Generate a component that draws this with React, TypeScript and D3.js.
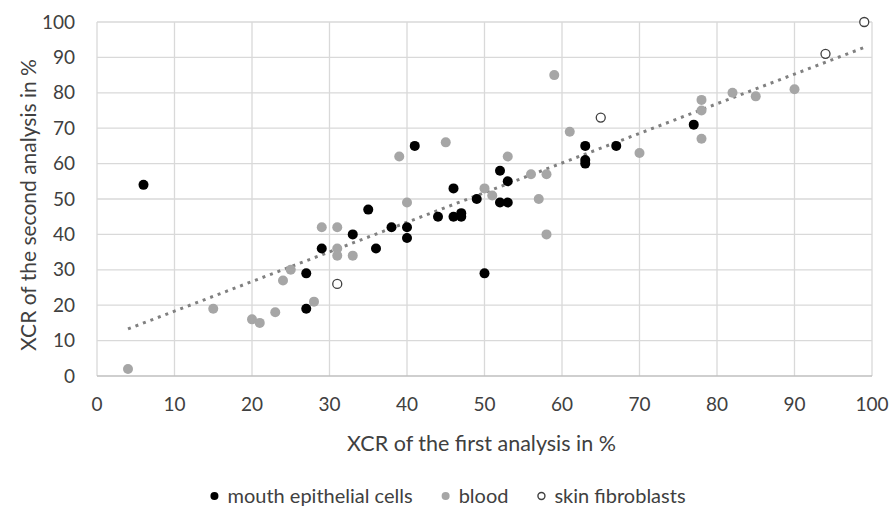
import * as d3 from "d3";
import { useEffect, useRef } from "react";

// x = XCR first analysis, y = XCR second analysis (%)
const mouthX = [6, 27, 27, 29, 33, 35, 36, 38, 40, 40, 41, 44, 46, 46, 47, 47, 49, 50, 52, 52, 53, 53, 63, 63, 63, 67, 77];
const mouthY = [54, 19, 29, 36, 40, 47, 36, 42, 42, 39, 65, 45, 53, 45, 46, 45, 50, 29, 58, 49, 49, 55, 65, 61, 60, 65, 71];

const bloodX = [4, 15, 20, 21, 23, 24, 25, 28, 29, 31, 31, 31, 33, 39, 40, 45, 50, 51, 53, 56, 57, 58, 58, 59, 61, 70, 78, 78, 78, 82, 85, 90];
const bloodY = [2, 19, 16, 15, 18, 27, 30, 21, 42, 42, 36, 34, 34, 62, 49, 66, 53, 51, 62, 57, 50, 57, 40, 85, 69, 63, 78, 75, 67, 80, 79, 81];

const skinX = [31, 65, 94, 99];
const skinY = [26, 73, 91, 100];

// linear trendline as drawn in the source
const trendSlope = 0.837;
const trendIntercept = 9.95;
const trendRange = [4, 99];

const xTicks = [0, 10, 20, 30, 40, 50, 60, 70, 80, 90, 100];
const yTicks = [0, 10, 20, 30, 40, 50, 60, 70, 80, 90, 100];

const legendItems = ["mouth epithelial cells", "blood", "skin fibroblasts"];
const legendFills = ["#000", "#a6a6a6", "#fff"];

const width = 889;
const height = 507;
const margin = { top: 22, right: 17, bottom: 131, left: 97 };
const font = "Lato, 'Open Sans', sans-serif";
const textColor = "#404040";

export default function App() {
  const svgRef = useRef<SVGSVGElement | null>(null);

  useEffect(() => {
    const svg = d3.select(svgRef.current);
    svg.selectAll("*").remove();

    const x = d3.scaleLinear().domain([0, 100]).range([margin.left, width - margin.right]);
    const y = d3.scaleLinear().domain([0, 100]).range([height - margin.bottom, margin.top]);

    // grid
    svg.append("g")
      .selectAll("line")
      .data(xTicks)
      .join("line")
      .attr("x1", (d) => x(d))
      .attr("x2", (d) => x(d))
      .attr("y1", y(0))
      .attr("y2", y(100))
      .attr("stroke", "#d9d9d9")
      .attr("stroke-width", 1.3);

    svg.append("g")
      .selectAll("line")
      .data(yTicks)
      .join("line")
      .attr("x1", x(0))
      .attr("x2", x(100))
      .attr("y1", (d) => y(d))
      .attr("y2", (d) => y(d))
      .attr("stroke", (d) => (d === 0 ? "#bfbfbf" : "#d9d9d9"))
      .attr("stroke-width", 1.3);

    // tick labels
    svg.append("g")
      .selectAll("text")
      .data(xTicks)
      .join("text")
      .attr("x", (d) => x(d))
      .attr("y", y(0) + 35)
      .attr("text-anchor", "middle")
      .attr("font-family", font)
      .attr("font-size", 19)
      .attr("fill", textColor)
      .text((d) => d);

    svg.append("g")
      .selectAll("text")
      .data(yTicks)
      .join("text")
      .attr("x", x(0) - 22)
      .attr("y", (d) => y(d))
      .attr("dy", "0.35em")
      .attr("text-anchor", "end")
      .attr("font-family", font)
      .attr("font-size", 19)
      .attr("fill", textColor)
      .text((d) => d);

    // axis titles
    svg.append("text")
      .attr("x", (x(0) + x(100)) / 2 - 3)
      .attr("y", y(0) + 75)
      .attr("text-anchor", "middle")
      .attr("font-family", font)
      .attr("font-size", 21.5)
      .attr("fill", textColor)
      .text("XCR of the first analysis in %");

    svg.append("text")
      .attr("transform", `translate(36, ${(y(0) + y(100)) / 2 + 6}) rotate(-90)`)
      .attr("text-anchor", "middle")
      .attr("font-family", font)
      .attr("font-size", 21)
      .attr("fill", textColor)
      .text("XCR of the second analysis in %");

    // trendline
    svg.append("line")
      .attr("x1", x(trendRange[0]))
      .attr("y1", y(trendSlope * trendRange[0] + trendIntercept))
      .attr("x2", x(trendRange[1]))
      .attr("y2", y(trendSlope * trendRange[1] + trendIntercept))
      .attr("stroke", "#808080")
      .attr("stroke-width", 3)
      .attr("stroke-dasharray", "3 5");

    const r = 5;
    svg.append("g")
      .selectAll("circle")
      .data(bloodX.map((v, i) => [v, bloodY[i]]))
      .join("circle")
      .attr("cx", (d) => x(d[0]))
      .attr("cy", (d) => y(d[1]))
      .attr("r", r)
      .attr("fill", "#a6a6a6");

    svg.append("g")
      .selectAll("circle")
      .data(mouthX.map((v, i) => [v, mouthY[i]]))
      .join("circle")
      .attr("cx", (d) => x(d[0]))
      .attr("cy", (d) => y(d[1]))
      .attr("r", r)
      .attr("fill", "#000");

    svg.append("g")
      .selectAll("circle")
      .data(skinX.map((v, i) => [v, skinY[i]]))
      .join("circle")
      .attr("cx", (d) => x(d[0]))
      .attr("cy", (d) => y(d[1]))
      .attr("r", r - 0.5)
      .attr("fill", "#fff")
      .attr("stroke", "#404040")
      .attr("stroke-width", 1.3);

    // legend, laid out from measured text widths and centred
    const legendY = 496;
    const legendCenter = 448;
    const legend = svg.append("g");
    let cursor = 0;
    legendItems.forEach((label, i) => {
      const c = legend.append("circle").attr("cx", cursor + 4).attr("cy", legendY).attr("r", 4).attr("fill", legendFills[i]);
      if (i === 2) c.attr("r", 3.5).attr("stroke", "#404040").attr("stroke-width", 1.4);
      const t = legend.append("text")
        .attr("x", cursor + 17)
        .attr("y", legendY)
        .attr("dy", "0.35em")
        .attr("font-family", font)
        .attr("font-size", 20)
        .attr("fill", textColor)
        .text(label);
      const len = (t.node() as SVGTextElement).getComputedTextLength();
      cursor += 17 + len + (i < legendItems.length - 1 ? 29 : 0);
    });
    legend.attr("transform", `translate(${legendCenter - cursor / 2}, 0)`);
  }, []);

  return (
    <div style={{ position: "absolute", left: 0, top: 0 }}>
      <svg ref={svgRef} width={width} height={height} style={{ display: "block", background: "#fff" }} />
    </div>
  );
}
